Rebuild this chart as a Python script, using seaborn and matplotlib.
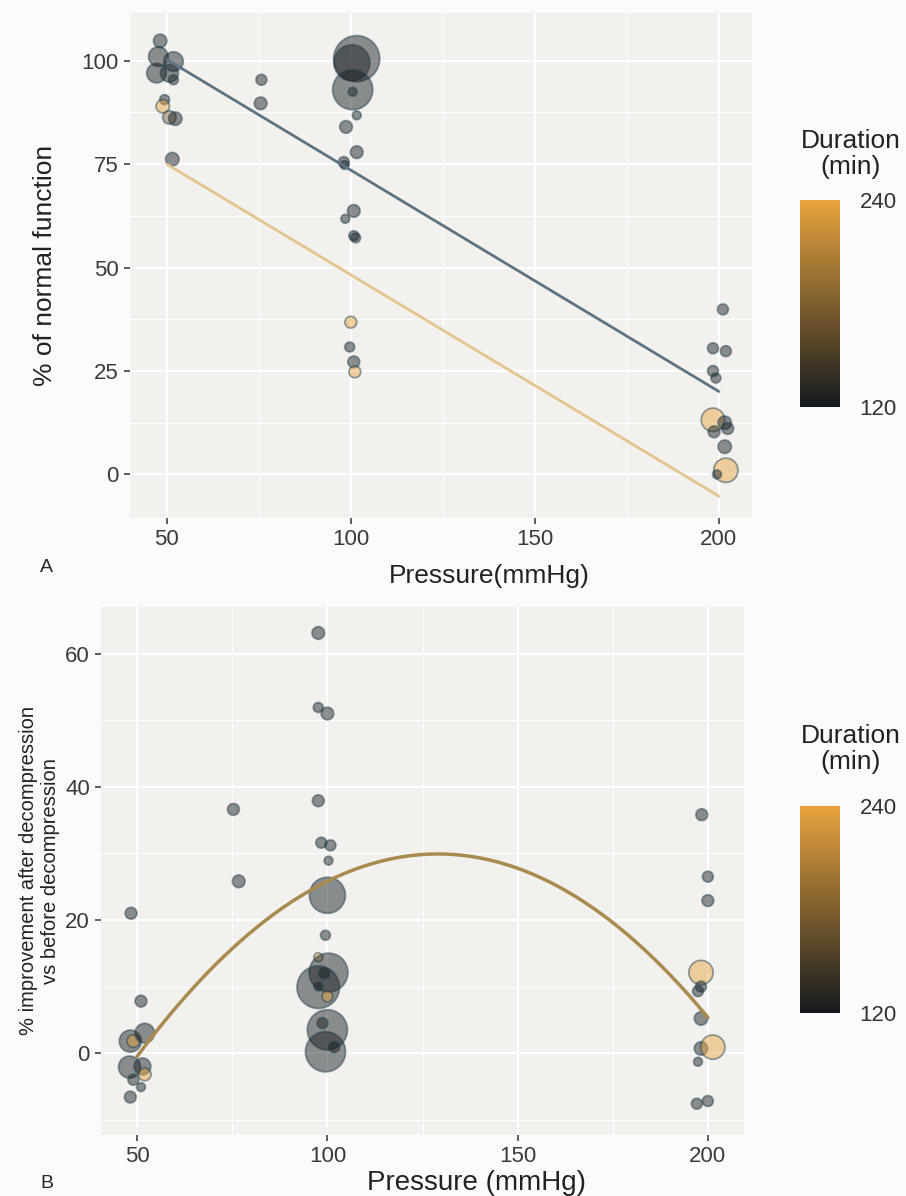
import numpy as np
import pandas as pd
import seaborn as sns
import matplotlib
matplotlib.use("Agg")
import matplotlib.pyplot as plt
from matplotlib.colors import LinearSegmentedColormap, Normalize
from matplotlib.cm import ScalarMappable
from matplotlib.ticker import MultipleLocator

# panel A: % of normal function vs pressure
a_pressure = [48.2, 47.7, 51.8, 47.2, 50.7, 51.8, 49.4, 48.9, 50.7, 52.3, 51.5,
              75.7, 75.5,
              101.6, 100.3, 100.5, 100.5, 101.6, 98.7, 101.6, 98.1, 98.3, 100.8,
              98.5, 100.8, 101.3, 100.0, 99.7, 100.8, 101.1,
              201.1, 198.4, 201.9, 198.4, 199.2, 198.4, 201.6, 202.4, 198.7,
              201.6, 201.9, 199.5]
a_function = [104.8, 101.0, 99.8, 97.0, 97.0, 95.4, 90.6, 89.0, 86.3, 86.0, 76.2,
              95.4, 89.7,
              100.5, 99.5, 93.0, 92.5, 86.8, 84.0, 77.9, 75.5, 74.8, 63.7,
              61.8, 57.7, 57.2, 36.8, 30.8, 27.2, 24.8,
              39.9, 30.5, 29.8, 25.0, 23.3, 13.2, 12.5, 11.1, 10.3,
              6.7, 1.0, 0.0]
a_duration = [120, 120, 120, 120, 120, 120, 120, 240, 180, 120, 120,
              120, 120,
              120, 120, 120, 120, 120, 120, 120, 120, 120, 120,
              120, 120, 120, 240, 120, 120, 240,
              120, 120, 120, 120, 120, 240, 120, 120, 120,
              120, 240, 120]
a_n = [10, 20, 20, 20, 17, 6, 6, 10, 10, 10, 10,
       7, 9,
       105, 65, 80, 4, 5, 9, 9, 7, 4, 9,
       5, 6, 6, 8, 6, 8, 8,
       7, 7, 7, 7, 6, 28, 10, 8, 8,
       10, 30, 5]

# fitted additive model (pressure + duration) shown in panel A
a_intercept = 127.05
a_slope = -0.535
a_dur_effect = {120: 0.0, 240: -25.3}

# panel B: improvement after decompression
b_pressure = [97.6, 97.6, 100.0, 97.6, 75.3, 98.4, 100.8, 100.3, 76.7, 100.0,
              48.4, 99.5, 97.6, 100.3, 97.6, 99.2, 97.6, 100.0, 100.0, 98.7,
              99.5, 101.8, 51.0, 48.2, 49.0, 52.0, 48.0, 51.4, 52.0, 49.0,
              51.0, 48.2,
              198.4, 200.0, 200.0, 198.2, 198.2, 197.4, 198.2, 198.2, 201.3,
              197.4, 197.1, 200.0]
b_improve = [63.1, 51.9, 51.0, 37.9, 36.6, 31.6, 31.2, 28.9, 25.8, 23.7,
             21.0, 17.7, 14.4, 12.1, 9.9, 12.0, 10.0, 8.5, 3.5, 4.5,
             0.2, 0.9, 7.8, 1.8, 1.8, 3.0, -2.1, -2.0, -3.2, -4.0,
             -5.1, -6.6,
             35.8, 26.5, 22.9, 12.1, 10.0, 9.3, 5.2, 0.7, 0.9,
             -1.3, -7.6, -7.2]
b_duration = [120, 120, 120, 120, 120, 120, 120, 120, 120, 120,
              120, 120, 240, 120, 120, 120, 120, 240, 120, 120,
              120, 120, 120, 120, 240, 120, 120, 120, 240, 120,
              120, 120,
              120, 120, 120, 240, 120, 120, 120, 120, 240,
              120, 120, 120]
b_n = [9, 6, 9, 8, 8, 7, 7, 5, 9, 65,
       8, 6, 5, 75, 90, 7, 5, 7, 80, 7,
       80, 7, 8, 25, 9, 20, 25, 15, 9, 7,
       5, 8,
       8, 7, 8, 30, 7, 7, 10, 10, 30,
       5, 7, 7]

# quadratic fit shown in panel B
b_coef = [-51.14, 1.2565, -0.00487]

dur_cmap = LinearSegmentedColormap.from_list("dur", ["#141a1e", "#e8a33e"])
dur_norm = Normalize(120, 240)

df_a = pd.DataFrame({"pressure": a_pressure, "function": a_function,
                     "duration": a_duration, "n": a_n})
df_b = pd.DataFrame({"pressure": b_pressure, "improve": b_improve,
                     "duration": b_duration, "n": b_n})

sns.set_theme(style="darkgrid")
plt.rcParams["font.family"] = ["Liberation Sans", "DejaVu Sans"]
plt.rcParams["axes.facecolor"] = "#f2f1ee"
plt.rcParams["grid.color"] = "white"

fig = plt.figure(figsize=(9.06, 11.96), dpi=100, facecolor="#fcfbf9")
ax_a = fig.add_axes([0.1435, 0.567, 0.6865, 0.422])
ax_b = fig.add_axes([0.1115, 0.051, 0.7097, 0.4415])

point_kw = dict(hue="duration", hue_norm=dur_norm, palette=dur_cmap,
                size="n", sizes=(40, 1100), size_norm=(5, 105),
                alpha=0.47, edgecolor="#1c3d4e", linewidth=1.3, legend=False)

sns.scatterplot(data=df_a, x="pressure", y="function", ax=ax_a, **point_kw)

xs = np.linspace(50, 200, 50)
line_colors = {120: "#5d7383", 240: "#e3c48e"}
for dur, eff in a_dur_effect.items():
    sns.lineplot(x=xs, y=a_intercept + a_slope * xs + eff, ax=ax_a,
                 color=line_colors[dur], linewidth=2)

sns.scatterplot(data=df_b, x="pressure", y="improve", ax=ax_b, **point_kw)
xq = np.linspace(50, 200, 200)
sns.lineplot(x=xq, y=b_coef[0] + b_coef[1] * xq + b_coef[2] * xq ** 2,
             ax=ax_b, color="#a98a4f", linewidth=2.5)

for ax, ymaj in [(ax_a, 25), (ax_b, 20)]:
    ax.xaxis.set_major_locator(MultipleLocator(50))
    ax.xaxis.set_minor_locator(MultipleLocator(25))
    ax.yaxis.set_major_locator(MultipleLocator(ymaj))
    ax.yaxis.set_minor_locator(MultipleLocator(ymaj / 2))
    ax.grid(which="major", color="white", linewidth=1.4)
    ax.grid(which="minor", color="white", linewidth=0.7)
    ax.tick_params(which="major", bottom=True, left=True, length=4, width=1.1,
                   color="#333333", labelsize=16, labelcolor="#3a3a3a", pad=4)
    ax.tick_params(which="minor", length=0)
    for s in ax.spines.values():
        s.set_visible(False)

ax_a.set_xlim(40, 209)
ax_a.set_ylim(-10.5, 111.5)
ax_b.set_xlim(40.5, 209.5)
ax_b.set_ylim(-12.3, 67)

ax_a.set_xlabel("Pressure(mmHg)", fontsize=19, color="#222222")
ax_a.xaxis.set_label_coords((489 - 130) / 622, -0.092)
ax_a.set_ylabel("% of normal function", fontsize=19, color="#222222", labelpad=18)
ax_b.set_xlabel("Pressure (mmHg)", fontsize=20, color="#222222")
ax_b.xaxis.set_label_coords((476 - 101) / 643, -0.066)
ax_b.set_ylabel("% improvement after decompression\nvs before decompression",
                fontsize=14.5, color="#222222", labelpad=4)

fig.text(40 / 906, 1 - 568 / 1196, "A", fontsize=14, va="center")
fig.text(40 / 906, 1 - 1183 / 1196, "B", fontsize=14, va="center")

# colour bars for duration
sm = ScalarMappable(norm=dur_norm, cmap=dur_cmap)
for top_px, title_px in [(200, 154), (806, 749)]:
    cax = fig.add_axes([800 / 906, 1 - (top_px + 207) / 1196, 40 / 906, 207 / 1196])
    cb = fig.colorbar(sm, cax=cax, ticks=[120, 240])
    cb.outline.set_visible(False)
    cax.tick_params(length=0, labelsize=16, labelcolor="#333333", pad=14)
    fig.text(851 / 906, 1 - title_px / 1196, "Duration\n(min)", fontsize=19,
             ha="center", va="center", color="#222222", linespacing=1.15)

fig.savefig("out.png", dpi=100, facecolor=fig.get_facecolor())
